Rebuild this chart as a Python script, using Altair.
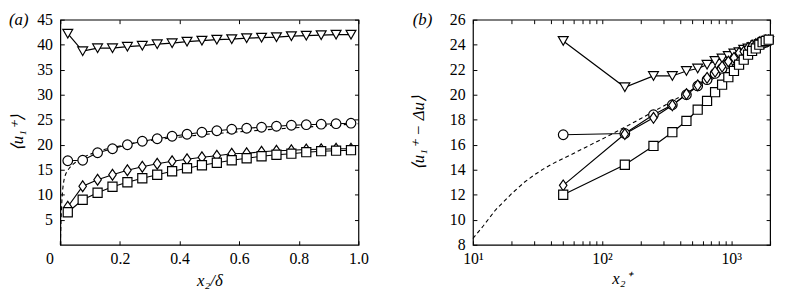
import altair as alt
import pandas as pd

FONT = "Liberation Serif"

# ---------------- data ----------------
x_delta = [0.025, 0.075, 0.125, 0.175, 0.225, 0.275, 0.325, 0.375, 0.425, 0.475,
           0.525, 0.575, 0.625, 0.675, 0.725, 0.775, 0.825, 0.875, 0.925, 0.975]
x_plus = [50, 150, 250, 350, 450, 550, 650, 750, 850, 950,
          1050, 1150, 1250, 1350, 1450, 1550, 1650, 1750, 1850, 1950]

tri_a = [42.2, 38.7, 39.3, 39.3, 39.6, 39.8, 40.1, 40.3, 40.6, 40.8,
         41.0, 41.1, 41.3, 41.4, 41.5, 41.7, 41.8, 41.9, 42.0, 42.0]
circ_a = [16.8, 16.9, 18.4, 19.2, 20.0, 20.7, 21.2, 21.7, 22.1, 22.5,
          22.8, 23.1, 23.3, 23.5, 23.7, 23.9, 24.0, 24.1, 24.2, 24.3]
diam_a = [7.6, 11.7, 13.0, 14.0, 14.9, 15.6, 16.2, 16.7, 17.1, 17.5,
          17.8, 18.2, 18.3, 18.6, 18.8, 18.9, 19.05, 19.1, 19.2, 19.2]
sq_a = [6.5, 9.0, 10.4, 11.6, 12.5, 13.3, 14.0, 14.7, 15.3, 15.9,
        16.4, 16.9, 17.3, 17.7, 18.0, 18.2, 18.5, 18.7, 18.8, 18.9]

tri_b = [24.3, 20.6, 21.5, 21.5, 21.9, 22.1, 22.4, 22.7, 22.9, 23.1,
         23.3, 23.4, 23.6, 23.7, 23.8, 23.95, 24.05, 24.15, 24.25, 24.3]
circ_b = [16.8, 16.9, 18.4, 19.2, 20.0, 20.7, 21.2, 21.7, 22.1, 22.5,
          22.8, 23.1, 23.3, 23.5, 23.7, 23.9, 24.0, 24.1, 24.2, 24.3]
diam_b = [12.75, 16.85, 18.15, 19.15, 20.05, 20.75, 21.35, 21.85, 22.25, 22.65,
          22.95, 23.35, 23.45, 23.75, 23.95, 24.05, 24.2, 24.25, 24.35, 24.35]
sq_b = [12.0, 14.4, 15.9, 17.0, 17.9, 18.8, 19.5, 20.2, 20.8, 21.4,
        21.9, 22.4, 22.8, 23.2, 23.5, 23.7, 24.0, 24.2, 24.3, 24.4]

# dashed reference profile
ref_xp = [0, 0.5, 1, 2, 3, 5, 7, 10, 12, 15, 20, 25, 30, 35, 40, 50, 60, 70, 80,
          100, 150, 200, 300, 500, 700, 1000, 1500, 2000]
ref_u = [0, 0.5, 1.0, 2.0, 3.0, 4.9, 6.5, 8.5, 9.5, 10.8, 12.1, 13.0, 13.6, 14.05, 14.4,
         14.9, 15.3, 15.65, 15.95, 16.45, 17.4, 18.1, 19.1, 20.4, 21.2, 22.15, 23.25, 24.2]
re_tau = 2000

series_names = ["tri", "circ", "diam", "sq"]
shapes = ["triangle-down", "circle", "M0,-1.15L0.8,0L0,1.15L-0.8,0Z", "square"]
marker_sizes = [100, 85, 85, 64]
panel_labels = ["(a)", "(b)"]

x_ticks_a = [0, 0.2, 0.4, 0.6, 0.8, 1.0]
y_ticks_a = [5, 10, 15, 20, 25, 30, 35, 40, 45]
x_ticks_b = [10, 20, 30, 40, 50, 60, 70, 80, 90, 100, 200, 300, 400, 500, 600, 700,
             800, 900, 1000, 2000]
y_ticks_b = [8, 10, 12, 14, 16, 18, 20, 22, 24, 26]

# ---------------- tables ----------------
rows_a, rows_b = [], []
for name, va, vb in zip(series_names, [tri_a, circ_a, diam_a, sq_a], [tri_b, circ_b, diam_b, sq_b]):
    for xa, ya in zip(x_delta, va):
        rows_a.append({"x": xa, "u": ya, "s": name})
    for xb, yb in zip(x_plus, vb):
        rows_b.append({"x": xb, "u": yb, "s": name})
df_a = pd.DataFrame(rows_a)
df_b = pd.DataFrame(rows_b)
ref_a = pd.DataFrame({"x": [v / re_tau for v in ref_xp], "u": ref_u})
ref_b = pd.DataFrame({"x": ref_xp, "u": ref_u})
ref_b = ref_b[ref_b["x"] >= 10]

TICK = {"expr": "-4"}


def main_axis(orient, values, title, label_expr=None, label_padding=12, title_padding=4,
              label_offset=None):
    kw = dict(orient=orient, values=values, title=title, tickSize=TICK,
              labelPadding=label_padding, titlePadding=title_padding, domain=False,
              grid=False, labelFlush=False, titleFontStyle="italic", titleFontSize=17,
              titleFontWeight="normal", labelFontSize=16)
    if label_expr is not None:
        kw["labelExpr"] = label_expr
    if label_offset is not None:
        kw["labelOffset"] = label_offset
    return alt.Axis(**kw)


def box_axis(orient, values):
    return alt.Axis(orient=orient, values=values, labels=False, title="", tickSize=TICK,
                    domain=False, grid=False)


def panel(df, ref, xscale, yscale, xax, yax, xbox, ybox, label, w, h, label_x):
    dashed = alt.Chart(ref).mark_line(color="black", strokeWidth=1.1, strokeDash=[4, 3]).encode(
        x=alt.X("x:Q", scale=xscale, axis=xax),
        y=alt.Y("u:Q", scale=yscale, axis=yax),
    )
    lines = alt.Chart(df).mark_line(color="black", strokeWidth=1.2).encode(
        x=alt.X("x:Q", scale=xscale, axis=None),
        y=alt.Y("u:Q", scale=yscale, axis=None),
        detail="s:N",
    )
    pts = alt.Chart(df).mark_point(filled=True, fill="white", stroke="black",
                                   strokeWidth=1.2, opacity=1).encode(
        x=alt.X("x:Q", scale=xscale, axis=None),
        y=alt.Y("u:Q", scale=yscale, axis=None),
        shape=alt.Shape("s:N", scale=alt.Scale(domain=series_names, range=shapes), legend=None),
        size=alt.Size("s:N", scale=alt.Scale(domain=series_names, range=marker_sizes), legend=None),
    )
    box = alt.Chart(ref).mark_line(opacity=0).encode(
        x=alt.X("x:Q", scale=xscale, axis=xbox),
        y=alt.Y("u:Q", scale=yscale, axis=ybox),
    )
    lab = alt.Chart(pd.DataFrame({"t": [label]})).mark_text(
        align="left", baseline="top", font=FONT, fontSize=17, fontStyle="italic",
        color="black").encode(text="t:N", x=alt.value(label_x), y=alt.value(-8))
    return alt.layer(dashed, lines, pts, box, lab).resolve_axis(
        x="independent", y="independent").properties(width=w, height=h)


left = panel(
    df_a, ref_a,
    alt.Scale(domain=[0, 1], nice=False, zero=False),
    alt.Scale(domain=[0, 45], nice=False, zero=False),
    main_axis("bottom", x_ticks_a, "x₂/δ",
              label_expr="datum.value == 0 ? '0' : format(datum.value, '.1f')",
              label_padding=10, title_padding=6,
              label_offset={"condition": {"test": "datum.value == 0", "value": -11}, "value": 0}),
    main_axis("left", y_ticks_a, "⟨u₁⁺⟩", title_padding=10),
    box_axis("top", x_ticks_a), box_axis("right", y_ticks_a),
    panel_labels[0], 302, 228, -52,
)

right = panel(
    df_b, ref_b,
    alt.Scale(type="log", domain=[10, 2000], nice=False),
    alt.Scale(domain=[8, 26], nice=False, zero=False),
    main_axis("bottom", x_ticks_b, "x₂⁺",
              label_expr="datum.value == 10 ? '10¹' : datum.value == 100 ? '10²' : datum.value == 1000 ? '10³' : ''",
              label_padding=10, title_padding=4),
    main_axis("left", y_ticks_b, "⟨u₁⁺ − Δu⟩", title_padding=22),
    box_axis("top", x_ticks_b), box_axis("right", y_ticks_b),
    panel_labels[1], 301, 228, -61,
)

chart = alt.hconcat(left, right, spacing=116, bounds="flush").properties(
    padding=0, background="white"
).configure_view(stroke="black", strokeWidth=1.2).configure_axis(
    labelFont=FONT, titleFont=FONT, labelColor="black", titleColor="black",
    tickColor="black", tickWidth=1
)

chart.save("out.html", embed_options={"renderer": "svg", "actions": False})
